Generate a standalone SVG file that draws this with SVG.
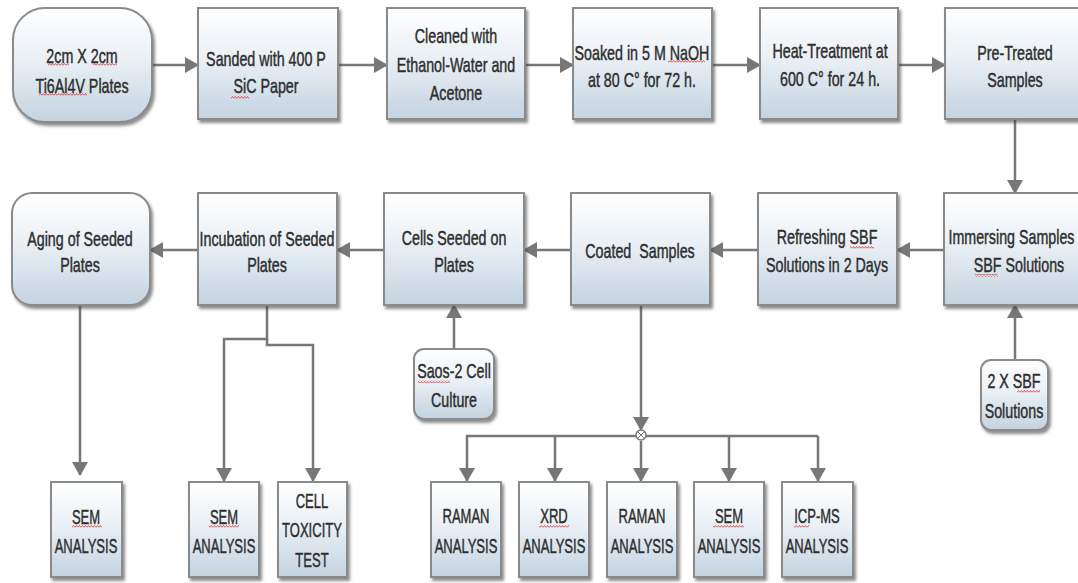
<svg xmlns="http://www.w3.org/2000/svg" width="1078" height="583" viewBox="0 0 1078 583">
<defs>
<linearGradient id="bf" x1="0" y1="0" x2="0" y2="1">
<stop offset="0" stop-color="#ffffff"/>
<stop offset="0.45" stop-color="#eaf0f5"/>
<stop offset="1" stop-color="#c3d3e0"/>
</linearGradient>
<filter id="sh" x="-10%" y="-10%" width="130%" height="130%">
<feDropShadow dx="2" dy="3" stdDeviation="1.5" flood-color="#404040" flood-opacity="0.6"/>
</filter>
<marker id="ah" markerWidth="15" markerHeight="16" refX="13" refY="8" orient="auto" markerUnits="userSpaceOnUse">
<path d="M0,0 L14,8 L0,16 z" fill="#777"/>
</marker>
<pattern id="sq" width="3" height="3" patternUnits="userSpaceOnUse">
<path d="M0,2.5 L1.5,0.5 L3,2.5" fill="none" stroke="#e03030" stroke-width="0.8"/>
</pattern>
</defs>
<style>
.b{fill:url(#bf);stroke:#8a8a8a;stroke-width:2;filter:url(#sh)}
.t{font-family:"Liberation Sans",Arial,sans-serif;font-size:21px;fill:#2e2e2e;stroke:#2e2e2e;stroke-width:0.45;text-anchor:middle}
.c{fill:none;stroke:#777;stroke-width:2.5}
.a{marker-end:url(#ah)}
.s{fill:url(#sq)}
</style>
<rect width="1078" height="583" fill="#fff"/>

<g id="connectors">
<line class="c a" x1="152" y1="65" x2="198" y2="65"/>
<line class="c a" x1="338" y1="65" x2="387" y2="65"/>
<line class="c a" x1="525" y1="65" x2="573" y2="65"/>
<line class="c a" x1="712" y1="65" x2="760" y2="65"/>
<line class="c a" x1="898" y1="65" x2="945" y2="65"/>
<line class="c a" x1="1015" y1="119" x2="1015" y2="193"/>
<line class="c a" x1="944" y1="250" x2="897" y2="250"/>
<line class="c a" x1="758" y1="250" x2="710" y2="250"/>
<line class="c a" x1="571" y1="250" x2="524" y2="250"/>
<line class="c a" x1="384" y1="250" x2="337" y2="250"/>
<line class="c a" x1="198" y1="250" x2="150" y2="250"/>
<line class="c a" x1="1015" y1="360" x2="1015" y2="305"/>
<line class="c a" x1="454" y1="349" x2="454" y2="305"/>
<line class="c a" x1="80" y1="305" x2="80" y2="475"/>
<path class="c a" d="M267,305 V339 H224 V481"/>
<path class="c a" d="M267,339 V345 H313 V481"/>
<line class="c a" x1="641" y1="305" x2="641" y2="430"/>
<path class="c a" d="M636,436 H467 V481"/>
<path class="c" d="M646,436 H818"/>
<path class="c a" d="M818,436 V481"/>
<path class="c a" d="M729,436 V481"/>
<path class="c a" d="M555,436 V481"/>
<path class="c a" d="M641,441 V481"/>
<circle cx="641" cy="435" r="5" fill="#fff" stroke="#777" stroke-width="1.5"/>
<path d="M638,432 L644,438 M644,432 L638,438" stroke="#777" stroke-width="1"/>
</g>

<g id="n1">
<rect class="b" x="13" y="8" width="139" height="114" rx="32"/>
<g transform="translate(82 0) scale(0.68 1)"><text class="t"><tspan x="0" y="63">2cm X 2cm</tspan><tspan x="0" y="93">Ti6Al4V Plates</tspan></text></g>
<rect class="s" x="48" y="63" width="21" height="3"/>
<rect class="s" x="93" y="63" width="24" height="3"/>
<rect class="s" x="39" y="93" width="48" height="3"/>
</g>
<g id="n2">
<rect class="b" x="198" y="8" width="140" height="111"/>
<g transform="translate(266 0) scale(0.68 1)"><text class="t"><tspan x="0" y="66">Sanded with 400 P</tspan><tspan x="0" y="93">SiC Paper</tspan></text></g>
<rect class="s" x="231" y="96" width="18" height="3"/>
</g>
<g id="n3">
<rect class="b" x="387" y="8" width="138" height="111"/>
<g transform="translate(456 0) scale(0.68 1)"><text class="t"><tspan x="0" y="43">Cleaned with</tspan><tspan x="0" y="72">Ethanol-Water and</tspan><tspan x="0" y="100">Acetone</tspan></text></g>
</g>
<g id="n4">
<rect class="b" x="573" y="8" width="139" height="111"/>
<g transform="translate(642 0) scale(0.68 1)"><text class="t"><tspan x="0" y="60">Soaked in 5 M NaOH</tspan><tspan x="0" y="87">at 80 C° for 72 h.</tspan></text></g>
<rect class="s" x="668" y="60" width="37" height="3"/>
</g>
<g id="n5">
<rect class="b" x="760" y="8" width="138" height="111"/>
<g transform="translate(830 0) scale(0.68 1)"><text class="t"><tspan x="0" y="58">Heat-Treatment at</tspan><tspan x="0" y="86">600 C° for 24 h.</tspan></text></g>
</g>
<g id="n6">
<rect class="b" x="945" y="8" width="140" height="111"/>
<g transform="translate(1015 0) scale(0.68 1)"><text class="t"><tspan x="0" y="60">Pre-Treated</tspan><tspan x="0" y="87">Samples</tspan></text></g>
</g>

<g id="n7">
<rect class="b" x="12" y="193" width="138" height="112" rx="20"/>
<g transform="translate(80 0) scale(0.68 1)"><text class="t"><tspan x="0" y="246">Aging of Seeded</tspan><tspan x="0" y="272">Plates</tspan></text></g>
</g>
<g id="n8">
<rect class="b" x="198" y="193" width="139" height="112"/>
<g transform="translate(267 0) scale(0.68 1)"><text class="t"><tspan x="0" y="246">Incubation of Seeded</tspan><tspan x="0" y="272">Plates</tspan></text></g>
</g>
<g id="n9">
<rect class="b" x="384" y="193" width="140" height="112"/>
<g transform="translate(454 0) scale(0.68 1)"><text class="t"><tspan x="0" y="245">Cells Seeded on</tspan><tspan x="0" y="272">Plates</tspan></text></g>
</g>
<g id="n10">
<rect class="b" x="571" y="193" width="139" height="112"/>
<g transform="translate(640 0) scale(0.68 1)"><text class="t"><tspan x="0" y="258" xml:space="preserve">Coated  Samples</tspan></text></g>
</g>
<g id="n11">
<rect class="b" x="758" y="193" width="139" height="112"/>
<g transform="translate(827 0) scale(0.68 1)"><text class="t"><tspan x="0" y="244">Refreshing SBF</tspan><tspan x="0" y="272">Solutions in 2 Days</tspan></text></g>
<rect class="s" x="850" y="246" width="24" height="3"/>
</g>
<g id="n12">
<rect class="b" x="944" y="193" width="140" height="112"/>
<g transform="translate(1019 0) scale(0.68 1)"><text class="t"><tspan x="0" y="244">Immersing Samples in</tspan><tspan x="0" y="272">SBF Solutions</tspan></text></g>
<rect class="s" x="975" y="274" width="23" height="3"/>
</g>

<g id="n13">
<rect class="b" x="981" y="360" width="67" height="70" rx="10"/>
<g transform="translate(1014 0) scale(0.68 1)"><text class="t"><tspan x="0" y="388">2 X SBF</tspan><tspan x="0" y="418">Solutions</tspan></text></g>
<rect class="s" x="1017" y="390" width="23" height="3"/>
</g>
<g id="n14">
<rect class="b" x="414" y="349" width="80" height="70" rx="10"/>
<g transform="translate(454 0) scale(0.68 1)"><text class="t"><tspan x="0" y="378">Saos-2 Cell</tspan><tspan x="0" y="407">Culture</tspan></text></g>
<rect class="s" x="418" y="380" width="32" height="3"/>
</g>

<g id="n15">
<rect class="b" x="51" y="482" width="71" height="95"/>
<g transform="translate(86 0) scale(0.62 1)"><text class="t"><tspan x="0" y="524">SEM</tspan><tspan x="0" y="553">ANALYSIS</tspan></text></g>
<rect class="s" x="72" y="525" width="30" height="3"/>
</g>
<g id="n16">
<rect class="b" x="189" y="482" width="70" height="95"/>
<g transform="translate(224 0) scale(0.62 1)"><text class="t"><tspan x="0" y="524">SEM</tspan><tspan x="0" y="553">ANALYSIS</tspan></text></g>
<rect class="s" x="209" y="525" width="30" height="3"/>
</g>
<g id="n17">
<rect class="b" x="278" y="482" width="69" height="95"/>
<g transform="translate(312 0) scale(0.62 1)"><text class="t"><tspan x="0" y="508">CELL</tspan><tspan x="0" y="537">TOXICITY</tspan><tspan x="0" y="567">TEST</tspan></text></g>
</g>
<g id="n18">
<rect class="b" x="431" y="482" width="70" height="95"/>
<g transform="translate(466 0) scale(0.62 1)"><text class="t"><tspan x="0" y="523">RAMAN</tspan><tspan x="0" y="553">ANALYSIS</tspan></text></g>
</g>
<g id="n19">
<rect class="b" x="519" y="482" width="70" height="95"/>
<g transform="translate(554 0) scale(0.62 1)"><text class="t"><tspan x="0" y="523">XRD</tspan><tspan x="0" y="553">ANALYSIS</tspan></text></g>
<rect class="s" x="539" y="525" width="30" height="3"/>
</g>
<g id="n20">
<rect class="b" x="607" y="482" width="70" height="95"/>
<g transform="translate(642 0) scale(0.62 1)"><text class="t"><tspan x="0" y="523">RAMAN</tspan><tspan x="0" y="553">ANALYSIS</tspan></text></g>
</g>
<g id="n21">
<rect class="b" x="694" y="482" width="70" height="95"/>
<g transform="translate(729 0) scale(0.62 1)"><text class="t"><tspan x="0" y="523">SEM</tspan><tspan x="0" y="553">ANALYSIS</tspan></text></g>
<rect class="s" x="713" y="525" width="31" height="3"/>
</g>
<g id="n22">
<rect class="b" x="782" y="482" width="71" height="95"/>
<g transform="translate(817 0) scale(0.62 1)"><text class="t"><tspan x="0" y="523">ICP-MS</tspan><tspan x="0" y="553">ANALYSIS</tspan></text></g>
<rect class="s" x="794" y="525" width="15" height="3"/>
</g>
</svg>
